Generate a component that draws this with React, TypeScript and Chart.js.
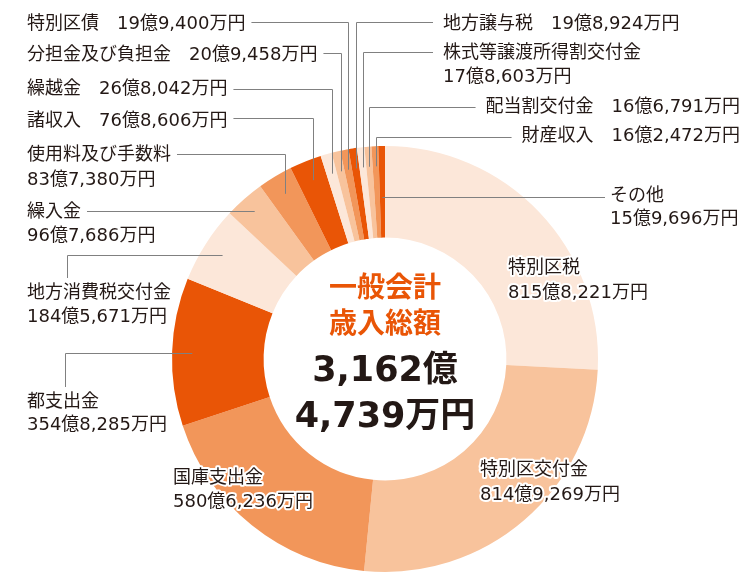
import React, { useEffect, useRef } from 'react';
import { Chart, registerables } from 'chart.js';

Chart.register(...registerables);

// ---- data ----
const categories = [
  '特別区税', '特別区交付金', '国庫支出金', '都支出金', '地方消費税交付金', '繰入金',
  '使用料及び手数料', '諸収入', '繰越金', '分担金及び負担金', '特別区債', '地方譲与税',
  '株式等譲渡所得割交付金', '配当割交付金', '財産収入', 'その他',
];
// values in 万円
const values = [
  8158221, 8149269, 5806236, 3548285, 1845671, 967686,
  837380, 768606, 268042, 209458, 199400, 198924,
  178603, 166791, 162472, 159696,
];
const totalLines = ['3,162億', '4,739万円'];
const centerTitle = ['一般会計', '歳入総額'];

const palette = ['#FCE7D9', '#F8C39C', '#F2965A', '#E95506'];

// ---- layout of labels (positions only) ----
type Leader =
  | { kind: 'none' }
  | { kind: 'upLeft'; lineY: number }
  | { kind: 'upRight'; lineY: number }
  | { kind: 'horizLeft'; lineY: number }
  | { kind: 'horizRight'; lineY: number }
  | { kind: 'leftDown'; elbowX: number; endY: number };

interface LabelLayout {
  x: number;
  ys: number[];
  align: 'left' | 'right';
  inline: boolean; // name and value on one line
  halo?: boolean;
  leader: Leader;
}

const layouts: LabelLayout[] = [
  { x: 508, ys: [268, 293], align: 'left', inline: false, halo: true, leader: { kind: 'none' } },
  { x: 480, ys: [470, 495], align: 'left', inline: false, halo: true, leader: { kind: 'none' } },
  { x: 173, ys: [478, 502], align: 'left', inline: false, halo: true, leader: { kind: 'none' } },
  { x: 27, ys: [402, 425], align: 'left', inline: false, leader: { kind: 'leftDown', elbowX: 65, endY: 387 } },
  { x: 27, ys: [293, 317], align: 'left', inline: false, leader: { kind: 'leftDown', elbowX: 67, endY: 278 } },
  { x: 27, ys: [212, 236], align: 'left', inline: false, leader: { kind: 'horizLeft', lineY: 211 } },
  { x: 27, ys: [155, 180], align: 'left', inline: false, leader: { kind: 'upLeft', lineY: 154 } },
  { x: 27, ys: [121], align: 'left', inline: true, leader: { kind: 'upLeft', lineY: 118 } },
  { x: 27, ys: [89], align: 'left', inline: true, leader: { kind: 'upLeft', lineY: 89 } },
  { x: 27, ys: [55], align: 'left', inline: true, leader: { kind: 'upLeft', lineY: 53 } },
  { x: 27, ys: [24], align: 'left', inline: true, leader: { kind: 'upLeft', lineY: 22 } },
  { x: 443, ys: [24], align: 'left', inline: true, leader: { kind: 'upRight', lineY: 22 } },
  { x: 443, ys: [53, 77], align: 'left', inline: false, leader: { kind: 'upRight', lineY: 52 } },
  { x: 740, ys: [107], align: 'right', inline: true, leader: { kind: 'upRight', lineY: 107 } },
  { x: 740, ys: [136], align: 'right', inline: true, leader: { kind: 'upRight', lineY: 137 } },
  { x: 610, ys: [196, 219], align: 'left', inline: false, leader: { kind: 'horizRight', lineY: 197 } },
];

const FONT = '"DejaVu Sans", "Noto Sans CJK JP", sans-serif';
const CJK_FONT = '"Noto Sans CJK JP", sans-serif';

function formatValue(v: number): string {
  const oku = Math.floor(v / 10000);
  const man = v % 10000;
  return `${oku.toLocaleString('en-US')}億${man.toLocaleString('en-US')}万円`;
}

const labelPlugin = {
  id: 'labelPlugin',
  afterDraw(chart: any) {
    const ctx: CanvasRenderingContext2D = chart.ctx;
    const meta = chart.getDatasetMeta(0);
    ctx.save();
    ctx.font = `18px ${FONT}`;
    ctx.textBaseline = 'middle';

    meta.data.forEach((arc: any, i: number) => {
      const p = arc.getProps(['x', 'y', 'startAngle', 'endAngle', 'innerRadius', 'outerRadius'], true);
      const mid = (p.startAngle + p.endAngle) / 2;
      const R = p.innerRadius + 0.78 * (p.outerRadius - p.innerRadius);
      const ax = p.x + Math.cos(mid) * R;
      const ay = p.y + Math.sin(mid) * R;
      const L = layouts[i];
      const name = categories[i];
      const val = formatValue(values[i]);
      const lines = L.inline ? [`${name}　${val}`] : [name, val];

      // text
      ctx.textAlign = L.align;
      lines.forEach((t, k) => {
        if (L.halo) {
          ctx.strokeStyle = '#ffffff';
          ctx.lineWidth = 4;
          ctx.lineJoin = 'round';
          ctx.strokeText(t, L.x, L.ys[k]);
        }
        ctx.fillStyle = '#231815';
        ctx.fillText(t, L.x, L.ys[k]);
      });

      const w0 = ctx.measureText(lines[0]).width;
      const textLeft = L.align === 'left' ? L.x : L.x - w0;
      const textRight = L.align === 'left' ? L.x + w0 : L.x;

      ctx.strokeStyle = '#808080';
      ctx.lineWidth = 1;
      const ld = L.leader;
      ctx.beginPath();
      if (ld.kind === 'upLeft') {
        ctx.moveTo(textRight + 6, ld.lineY + 0.5);
        ctx.lineTo(Math.round(ax) + 0.5, ld.lineY + 0.5);
        ctx.lineTo(Math.round(ax) + 0.5, ay);
      } else if (ld.kind === 'upRight') {
        ctx.moveTo(textLeft - 10, ld.lineY + 0.5);
        ctx.lineTo(Math.round(ax) + 0.5, ld.lineY + 0.5);
        ctx.lineTo(Math.round(ax) + 0.5, ay);
      } else if (ld.kind === 'horizLeft' || ld.kind === 'horizRight') {
        const t = (ld.lineY - p.y) / Math.sin(mid);
        const hx = p.x + Math.cos(mid) * t;
        const endX = ld.kind === 'horizLeft' ? textRight + 6 : textLeft - 5;
        ctx.moveTo(endX, ld.lineY + 0.5);
        ctx.lineTo(hx, ld.lineY + 0.5);
      } else if (ld.kind === 'leftDown') {
        const yy = Math.round(ay) + 0.5;
        ctx.moveTo(ax, yy);
        ctx.lineTo(ld.elbowX + 0.5, yy);
        ctx.lineTo(ld.elbowX + 0.5, ld.endY);
      }
      ctx.stroke();
    });

    // center text
    const cx = meta.data[0].x;
    ctx.textAlign = 'center';
    ctx.fillStyle = '#E95506';
    ctx.font = `bold 28px ${CJK_FONT}`;
    ctx.fillText(centerTitle[0], cx, 286);
    ctx.fillText(centerTitle[1], cx, 322);
    ctx.fillStyle = '#231815';
    ctx.font = `bold 35px ${FONT}`;
    ctx.fillText(totalLines[0], cx, 372);
    ctx.fillText(totalLines[1], cx, 418);
    ctx.restore();
  },
};

export default function App() {
  const ref = useRef<HTMLCanvasElement>(null);
  useEffect(() => {
    document.body.style.margin = '0';
    if (!ref.current) return;
    const chart = new Chart(ref.current, {
      type: 'doughnut',
      data: {
        labels: categories,
        datasets: [
          {
            data: values,
            backgroundColor: values.map((_, i) => palette[i % 4]),
            borderWidth: 0,
          },
        ],
      },
      options: {
        responsive: false,
        animation: false,
        cutout: '57%',
        layout: { padding: { left: 172, right: 152, top: 146, bottom: 12 } },
        plugins: { legend: { display: false }, tooltip: { enabled: false } },
      },
      plugins: [labelPlugin],
    } as any);
    return () => chart.destroy();
  }, []);
  return <canvas ref={ref} width={750} height={584} style={{ display: 'block' }} />;
}
